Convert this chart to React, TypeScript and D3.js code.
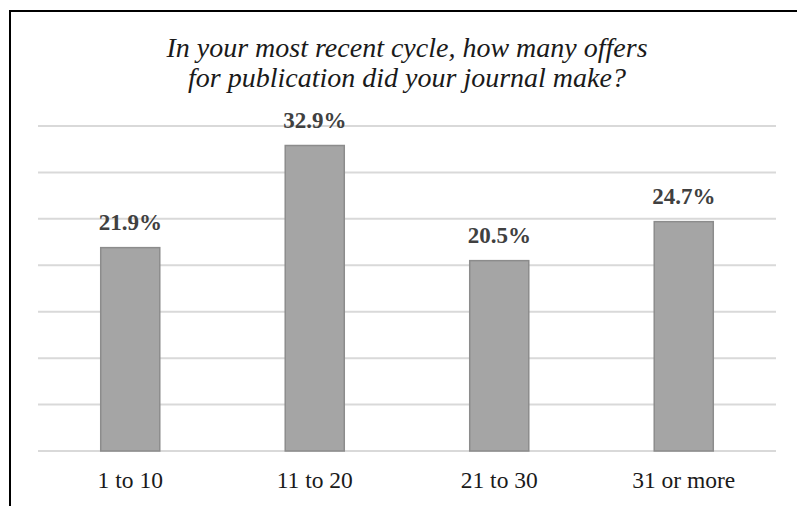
import React from "react";
import * as d3 from "d3";

const categories = ["1 to 10", "11 to 20", "21 to 30", "31 or more"];
const percentValues = [21.9, 32.9, 20.5, 24.7];
const gridTicks = [0, 5, 10, 15, 20, 25, 30, 35];
const titleLines = [
  "In your most recent cycle, how many offers",
  "for publication did your journal make?",
];

const W = 797;
const H = 506;
const plotLeft = 38;
const plotRight = 776;
const plotTop = 126;
const plotBottom = 451;

const serif = '"Liberation Serif", "Times New Roman", serif';

export default function App() {
  const x = d3
    .scaleBand<string>()
    .domain(categories)
    .range([plotLeft, plotRight])
    .paddingInner(0.68)
    .paddingOuter(0.34);
  const y = d3.scaleLinear().domain([0, 35]).range([plotBottom, plotTop]);
  const cx = (plotLeft + plotRight) / 2;

  return (
    <svg
      width={W}
      height={H}
      style={{ position: "absolute", left: 0, top: 0, background: "#fff" }}
    >
      <rect x={0} y={0} width={W} height={H} fill="#fff" />
      {gridTicks.map((t) => (
        <line
          key={t}
          x1={plotLeft}
          x2={plotRight}
          y1={y(t)}
          y2={y(t)}
          stroke="#d9d9d9"
          strokeWidth={2}
        />
      ))}
      {categories.map((c, i) => (
        <rect
          key={c}
          x={x(c)!}
          y={y(percentValues[i])}
          width={x.bandwidth()}
          height={y(0) - y(percentValues[i])}
          fill="#a5a5a5"
          stroke="#8c8c8c"
          strokeWidth={1.5}
        />
      ))}
      {categories.map((c, i) => (
        <text
          key={c + "v"}
          x={x(c)! + x.bandwidth() / 2}
          y={y(percentValues[i]) - 17.5}
          textAnchor="middle"
          fontWeight="bold"
          fontSize={23}
          fill="#404040"
          style={{ fontFamily: serif }}
        >
          {percentValues[i].toFixed(1) + "%"}
        </text>
      ))}
      {categories.map((c) => (
        <text
          key={c + "l"}
          x={x(c)! + x.bandwidth() / 2}
          y={488}
          textAnchor="middle"
          fontSize={23.5}
          fill="#1a1a1a"
          style={{ fontFamily: serif }}
        >
          {c}
        </text>
      ))}
      {titleLines.map((t, i) => (
        <text
          key={t}
          x={cx}
          y={57 + i * 30}
          textAnchor="middle"
          fontStyle="italic"
          fontSize={28}
          fill="#1a1a1a"
          style={{ fontFamily: serif }}
        >
          {t}
        </text>
      ))}
      <rect
        x={10}
        y={11}
        width={W + 20}
        height={H + 20}
        fill="none"
        stroke="#000"
        strokeWidth={2}
      />
    </svg>
  );
}
